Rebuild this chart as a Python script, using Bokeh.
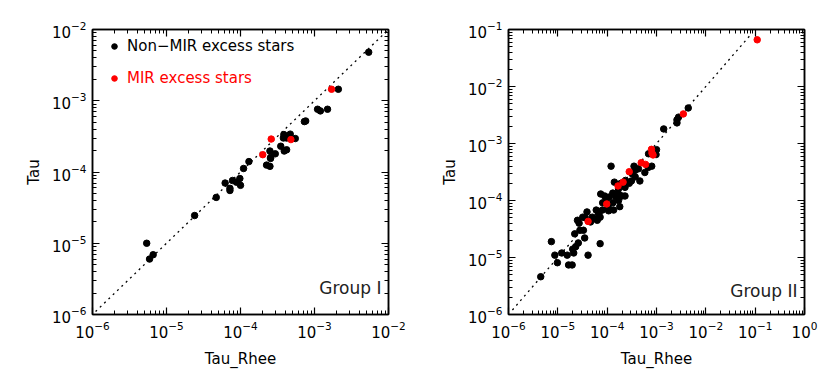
from bokeh.plotting import figure
from bokeh.models import (ColumnDataSource, Range1d, LogAxis, FixedTicker, Label,
                          Legend, LegendItem, CustomJSTickFormatter)
from bokeh.layouts import row
from bokeh.embed import file_html
from bokeh.resources import INLINE

# ---------------- data ----------------
# Group I
g1_non_x = [5.4e-3, 2.1e-3, 1.1e-3, 1.2e-3, 1.5e-3, 7.3e-4, 7.6e-4, 3.85e-4, 4.7e-4, 3.8e-4,
            4.2e-4, 5.5e-4, 3.5e-4, 4.2e-4, 3.9e-4, 2.5e-4, 2.95e-4, 2.55e-4, 2.55e-4, 2.25e-4,
            2.5e-4, 1.3e-4, 1.1e-4, 9.8e-5, 1.0e-4, 8.8e-5, 7.8e-5, 6.2e-5, 7.2e-5, 7.2e-5,
            4.7e-5, 2.4e-5, 5.4e-6, 5.9e-6, 6.6e-6]
g1_non_y = [4.8e-3, 1.45e-3, 7.6e-4, 7.2e-4, 7.6e-4, 5.1e-4, 5.2e-4, 3.35e-4, 3.4e-4, 3.0e-4,
            3.0e-4, 2.95e-4, 2.3e-4, 2.05e-4, 1.97e-4, 1.97e-4, 1.8e-4, 1.6e-4, 1.55e-4, 1.25e-4,
            1.2e-4, 1.4e-4, 1.12e-4, 8.1e-5, 6.5e-5, 7.2e-5, 7.6e-5, 7.0e-5, 5.5e-5, 5.9e-5,
            4.4e-5, 2.45e-5, 1.0e-5, 6.0e-6, 6.9e-6]
g1_mir_x = [1.7e-3, 2.6e-4, 4.8e-4, 2.0e-4]
g1_mir_y = [1.45e-3, 2.9e-4, 2.85e-4, 1.75e-4]

# Group II
g2_non_x = [4.4e-3, 2.8e-3, 2.6e-3, 2.6e-3, 1.4e-3, 9.5e-4, 9.8e-4, 8.0e-4, 5.8e-4, 6.8e-4,
            1.2e-4, 3.5e-4, 4.3e-4, 3.7e-4, 4.6e-4, 3.1e-4, 2.8e-4, 2.1e-4, 2.3e-4, 1.7e-4,
            1.4e-4, 2.3e-4, 1.7e-4, 1.3e-4, 1.1e-4, 7.4e-5, 8.9e-5, 1.7e-4, 1.3e-4, 1.05e-4,
            8.0e-5, 1.35e-4, 6.8e-5, 6.0e-5, 5.0e-5, 4.6e-5, 3.6e-5, 3.2e-5, 2.7e-5, 2.5e-5,
            3.9e-5, 2.2e-5, 2.8e-5, 3.3e-5, 3.5e-5, 2.6e-5, 2.3e-5, 2.0e-5, 2.1e-5, 7.2e-5,
            4.1e-5, 1.55e-5, 1.2e-5, 9.8e-6, 8.7e-6, 7.4e-6, 4.5e-6, 1.65e-5, 1.95e-5, 1.07e-4,
            1.5e-4, 1.8e-4, 2.0e-4, 3.7e-4, 3.2e-4, 2.35e-4, 1.9e-4, 8.1e-5, 9.5e-5, 5.8e-5,
            7.2e-5, 6.3e-5, 6.9e-4, 1.0e-3]
g2_non_y = [4.2e-3, 2.9e-3, 2.6e-3, 2.3e-3, 1.8e-3, 7.3e-4, 6.4e-4, 4.0e-4, 3.1e-4, 3.8e-4,
            4.0e-4, 4.0e-4, 3.6e-4, 2.6e-4, 2.2e-4, 2.2e-4, 2.0e-4, 2.0e-4, 1.7e-4, 1.6e-4,
            2.1e-4, 1.2e-4, 1.3e-4, 1.35e-4, 1.15e-4, 1.3e-4, 1.2e-4, 1.0e-4, 9.1e-5, 7.7e-5,
            6.8e-5, 6.8e-5, 5.9e-5, 6.8e-5, 5.1e-5, 4.2e-5, 5.0e-5, 5.1e-5, 4.0e-5, 4.5e-5,
            6.3e-5, 2.6e-5, 3.0e-5, 3.0e-5, 2.2e-5, 1.8e-5, 1.55e-5, 1.4e-5, 1.2e-5, 1.75e-5,
            1.1e-5, 1.1e-5, 1.2e-5, 8.1e-6, 1.1e-5, 1.9e-5, 4.6e-6, 7.4e-6, 7.4e-6, 6.6e-5,
            1.15e-4, 7.8e-5, 1.2e-4, 3.4e-4, 2.95e-4, 2.25e-4, 2.0e-4, 9.1e-5, 1.0e-4, 4.8e-5,
            5.1e-5, 4.5e-5, 6.6e-4, 7.8e-4]
g2_mir_x = [0.11, 3.5e-3, 7.9e-4, 8.5e-4, 8.1e-4, 4.9e-4, 6.0e-4, 2.8e-4, 2.1e-4, 1.66e-4,
            9.8e-5, 4.1e-5]
g2_mir_y = [0.066, 3.3e-3, 7.9e-4, 6.3e-4, 6.8e-4, 4.6e-4, 4.3e-4, 3.2e-4, 2.1e-4, 1.8e-4,
            8.7e-5, 4.3e-5]

# one-to-one reference lines
g1_line = [1.1e-6, 1.0e-2]
g2_line = [1.2e-6, 8.0e-2]

g1_ticks = [1e-6, 1e-5, 1e-4, 1e-3, 1e-2]
g2_xticks = [1e-6, 1e-5, 1e-4, 1e-3, 1e-2, 1e-1, 1e0]
g2_yticks = [1e-6, 1e-5, 1e-4, 1e-3, 1e-2, 1e-1]

FONT = "DejaVu Sans"


def minors(ticks):
    return [m * t for t in ticks[:-1] for m in range(2, 10)]


def style_axis(ax, show_labels=True):
    ax.axis_line_color = "black"
    ax.axis_line_width = 1.5
    ax.major_tick_in = 7
    ax.major_tick_out = 0
    ax.minor_tick_in = 4
    ax.minor_tick_out = 0
    ax.major_tick_line_color = "black"
    ax.minor_tick_line_color = "black"
    ax.major_tick_line_width = 1.2
    ax.minor_tick_line_width = 1
    ax.major_label_text_font = FONT
    ax.major_label_text_color = "black"
    ax.major_label_text_font_size = "15px"
    ax.axis_label_text_font = FONT
    ax.axis_label_text_font_style = "normal"
    ax.axis_label_text_font_size = "15px"
    ax.axis_label_text_color = "black"
    if show_labels:
        ax.major_label_standoff = 6
    else:
        ax.formatter = CustomJSTickFormatter(code="return ''")
        ax.major_label_standoff = 0


def make_panel(xt, yt, non_x, non_y, mir_x, mir_y, line, group, legend, left, right):
    p = figure(frame_width=296, frame_height=285, x_axis_type="log", y_axis_type="log",
               x_range=Range1d(xt[0], xt[-1]), y_range=Range1d(yt[0], yt[-1]),
               output_backend="svg", toolbar_location=None,
               min_border_left=left, min_border_right=right,
               min_border_top=29, min_border_bottom=58)
    p.grid.visible = False
    p.outline_line_color = "black"
    p.outline_line_width = 1.5
    p.background_fill_color = "white"
    p.border_fill_color = "white"

    p.xaxis.ticker = FixedTicker(ticks=xt, minor_ticks=minors(xt))
    p.yaxis.ticker = FixedTicker(ticks=yt, minor_ticks=minors(yt))
    style_axis(p.xaxis[0])
    style_axis(p.yaxis[0])
    p.xaxis.axis_label = "Tau_Rhee"
    p.yaxis.axis_label = "Tau"
    p.xaxis.axis_label_standoff = 9
    p.yaxis.axis_label_standoff = 6

    top = LogAxis(ticker=FixedTicker(ticks=xt, minor_ticks=minors(xt)))
    rgt = LogAxis(ticker=FixedTicker(ticks=yt, minor_ticks=minors(yt)))
    style_axis(top, False)
    style_axis(rgt, False)
    p.add_layout(top, "above")
    p.add_layout(rgt, "right")

    p.line(line, line, line_color="black", line_width=1.3, line_dash="2 4")

    s_non = ColumnDataSource(dict(x=non_x, y=non_y))
    s_mir = ColumnDataSource(dict(x=mir_x, y=mir_y))
    r_non = p.scatter("x", "y", source=s_non, size=6.5, fill_color="black", line_color="black")
    r_mir = p.scatter("x", "y", source=s_mir, size=6.5, fill_color="red", line_color="red")

    if legend:
        for rend, lab, col, ypos in [(r_non, "Non\u2212MIR excess stars", "black", 258),
                                     (r_mir, "MIR excess stars", "red", 226)]:
            lg = Legend(items=[LegendItem(label=lab, renderers=[rend])],
                        location=(15, ypos), border_line_color=None,
                        background_fill_alpha=0, padding=0, margin=0,
                        glyph_width=14, glyph_height=20, label_standoff=6,
                        label_text_font=FONT, label_text_font_size="15px",
                        label_text_color=col)
            p.add_layout(lg, "center")

    p.add_layout(Label(x=xt[-1], y=yt[0] * 1.7, text=group, text_align="right",
                       text_baseline="bottom", x_offset=-7, text_font=FONT,
                       text_font_size="17px", text_color="#222222"))
    return p


p1 = make_panel(g1_ticks, g1_ticks, g1_non_x, g1_non_y, g1_mir_x, g1_mir_y,
                g1_line, "Group I", True, 92, 27)
p2 = make_panel(g2_xticks, g2_yticks, g2_non_x, g2_non_y, g2_mir_x, g2_mir_y,
                g2_line, "Group II", False, 93, 25)

layout = row(p1, p2)
open("out.html", "w").write(file_html(layout, INLINE))
